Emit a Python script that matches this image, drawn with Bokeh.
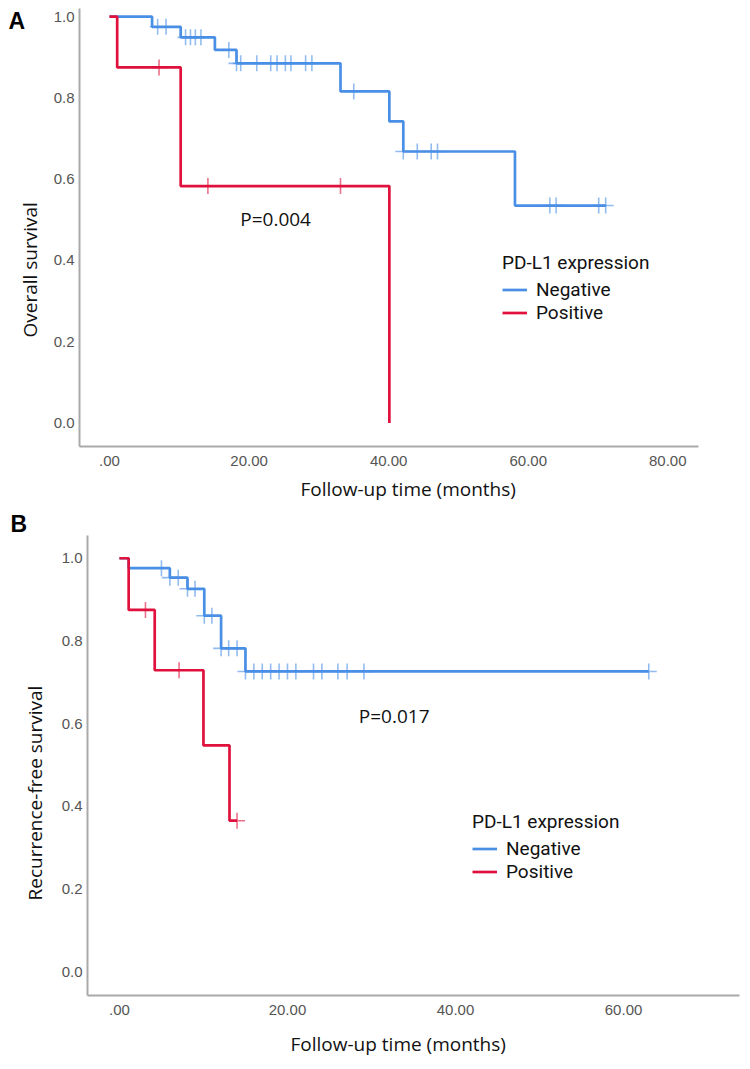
import numpy as np
from bokeh.plotting import figure
from bokeh.models import Range1d, FixedTicker, Legend, LegendItem, Label, PrintfTickFormatter, Title
from bokeh.embed import file_html
from bokeh.resources import INLINE

# ---------------- data ----------------
# Panel A: overall survival
os_neg_time = [0, 6.1, 10.2, 15.1, 18.2, 33.1, 40.1, 42.1, 58.1, 71.1]
os_neg_surv = [1.0, 0.975, 0.949, 0.918, 0.885, 0.816, 0.742, 0.668, 0.535, 0.535]
os_neg_censor = [6.9, 8.1, 10.9, 11.6, 12.3, 13.1, 17.1, 18.2, 18.8, 21.1, 23.1, 24.0,
                 25.2, 26.0, 28.1, 29.0, 35.0, 42.1, 44.1, 46.1, 47.0, 63.1, 64.0, 70.1, 71.1]
os_pos_time = [0, 1.1, 10.2, 40.1]
os_pos_surv = [1.0, 0.875, 0.583, 0.0]
os_pos_censor = [7.1, 14.1, 33.1]

# Panel B: recurrence-free survival
rfs_neg_time = [0, 1.1, 6.0, 8.1, 10.1, 12.1, 15.0, 63.0]
rfs_neg_surv = [1.0, 0.976, 0.953, 0.926, 0.861, 0.782, 0.726, 0.726]
rfs_neg_censor = [5.0, 6.0, 7.0, 8.1, 9.0, 10.1, 11.0, 12.1, 13.0, 14.0, 15.0, 16.0, 17.0,
                  18.0, 19.0, 20.0, 21.0, 23.1, 24.1, 26.0, 27.1, 29.1, 63.0]
rfs_pos_time = [0, 1.1, 4.2, 10.0, 13.1, 14.0]
rfs_pos_surv = [1.0, 0.875, 0.729, 0.547, 0.365, 0.365]
rfs_pos_censor = [3.1, 7.1, 14.0]

groups = ["Negative", "Positive"]
legend_title = "PD-L1 expression"
x_ticks_a = [0, 20, 40, 60, 80]
x_ticks_b = [0, 20, 40, 60]
x_tick_labels = {0: ".00", 20: "20.00", 40: "40.00", 60: "60.00", 80: "80.00"}
y_ticks = [0.0, 0.2, 0.4, 0.6, 0.8, 1.0]

BLUE = "#4a8fe6"
RED = "#e0113c"
TXT_FONT = "Open Sans"
LEG_FONT = "Roboto"
TICK_FONT = "Liberation Sans"


def surv_at(times, surv, t):
    idx = np.searchsorted(np.asarray(times), np.asarray(t), side="right") - 1
    return [surv[i] for i in idx]


def make_panel(width, height, borders, xr, yr, xticks, neg, pos, ptext, ppos,
               xtitle, xt_off, xt_stand, x_lab_stand, ytitle, yt_off, yt_stand, leg_loc,
               letter, letter_off, letter_stand):
    left, right, top, bottom = borders
    p = figure(width=width, height=height, output_backend="svg", toolbar_location=None,
               x_range=Range1d(*xr), y_range=Range1d(*yr),
               min_border_left=left, min_border_right=right,
               min_border_top=top, min_border_bottom=bottom)
    p.outline_line_color = None
    p.xgrid.visible = False
    p.ygrid.visible = False
    for ax in (p.xaxis[0], p.yaxis[0]):
        ax.axis_line_color = "#a9a9a9"
        ax.axis_line_width = 2
        ax.major_tick_line_color = None
        ax.minor_tick_line_color = None
        ax.major_tick_out = 0
        ax.major_tick_in = 0
        ax.minor_tick_out = 0
        ax.major_label_text_font = TICK_FONT
        ax.major_label_text_font_size = "15px"
        ax.major_label_text_color = "#555555"
    p.xaxis.ticker = FixedTicker(ticks=xticks)
    p.xaxis.major_label_overrides = {k: v for k, v in x_tick_labels.items() if k in xticks}
    p.xaxis.major_label_standoff = x_lab_stand
    p.yaxis.ticker = FixedTicker(ticks=y_ticks)
    p.yaxis.formatter = PrintfTickFormatter(format="%.1f")
    p.yaxis.major_label_standoff = 5

    renderers = []
    for (times, surv, cens), color in zip([neg, pos], [BLUE, RED]):
        r = p.step(x=times, y=surv, mode="after", line_color=color, line_width=2.7)
        p.scatter(x=cens, y=surv_at(times, surv, cens), marker="cross", size=16,
                  line_color=color, line_width=1.6, line_alpha=0.6)
        renderers.append(r)

    legend = Legend(items=[LegendItem(label=g, renderers=[r]) for g, r in zip(groups, renderers)],
                    title=legend_title, location=leg_loc, orientation="vertical")
    legend.background_fill_alpha = 0
    legend.border_line_color = None
    legend.padding = 0
    legend.margin = 0
    legend.spacing = 0
    legend.title_text_font = LEG_FONT
    legend.title_text_font_size = "19px"
    legend.title_text_font_style = "normal"
    legend.title_text_color = "#111111"
    legend.title_standoff = 4
    legend.label_text_font = LEG_FONT
    legend.label_text_font_size = "19px"
    legend.label_text_color = "#111111"
    legend.label_standoff = 9
    legend.glyph_width = 25
    legend.glyph_height = 21
    legend.label_height = 21
    p.add_layout(legend)

    p.add_layout(Label(x=ppos[0], y=ppos[1], text=ptext, text_font=TXT_FONT,
                       text_font_size="19px", text_align="center", text_baseline="middle",
                       text_color="#111111"))
    p.add_layout(Title(text=xtitle, align="left", offset=xt_off, standoff=xt_stand,
                       text_font=TXT_FONT, text_font_size="19px", text_font_style="normal",
                       text_color="#111111"), "below")
    p.add_layout(Title(text=ytitle, align="left", offset=yt_off, standoff=yt_stand,
                       text_font=TXT_FONT, text_font_size="19px", text_font_style="normal",
                       text_color="#111111"), "left")
    p.add_layout(Title(text=letter, align="left", offset=letter_off, standoff=letter_stand,
                       text_font=TICK_FONT, text_font_size="23px", text_font_style="bold",
                       text_color="#000000"), "above")
    return p


pA = make_panel(750, 508, (79, 52, 8, 62), (-4.3, 84.4), (-0.058, 1.020), x_ticks_a,
                (os_neg_time, os_neg_surv, os_neg_censor),
                (os_pos_time, os_pos_surv, os_pos_censor),
                "P=0.004", (23.8, 0.503),
                "Follow-up time (months)", 221, 10, 9,
                "Overall survival", 109, 15, (423, 122),
                "A", -71, -50)

pB = make_panel(750, 561, (87, 11, 27, 74), (-3.8, 73.8), (-0.058, 1.055), x_ticks_b,
                (rfs_neg_time, rfs_neg_surv, rfs_neg_censor),
                (rfs_pos_time, rfs_pos_surv, rfs_pos_censor),
                "P=0.017", (32.7, 0.619),
                "Follow-up time (months)", 203, 22, 9,
                "Recurrence-free survival", 95, 21, (385, 112),
                "B", -77, -2)

open("out.html", "w").write(file_html([pA, pB], INLINE))
